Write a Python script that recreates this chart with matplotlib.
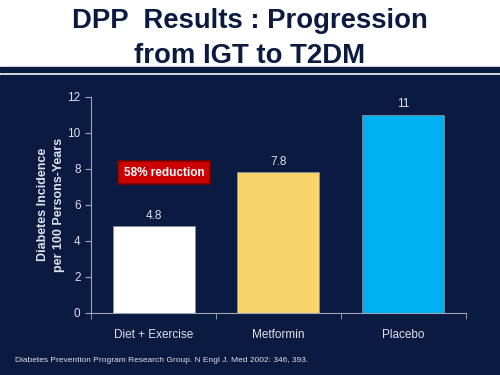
import matplotlib.pyplot as plt

# data
groups = ["Diet + Exercise", "Metformin", "Placebo"]
incidence = [4.8, 7.8, 11]
bar_colors = ["#ffffff", "#f8d46a", "#00b0f0"]
y_ticks = [0, 2, 4, 6, 8, 10, 12]

navy = "#0b1a40"
light = "#e0e0e8"

plt.rcParams["font.family"] = ["Liberation Sans", "DejaVu Sans"]

fig = plt.figure(figsize=(5, 3.75), dpi=100)
fig.patch.set_facecolor("white")

# navy slide body and header rules
fig.patches.append(plt.Rectangle((0, 0), 1, 1 - 75 / 375, transform=fig.transFigure,
                                 color=navy, zorder=-5))
fig.patches.append(plt.Rectangle((0, 1 - 72 / 375), 1, 5 / 375, transform=fig.transFigure,
                                 color=navy, zorder=-5))

fig.text(0.5, 0.925, "DPP  Results : Progression", ha="center", va="baseline",
         fontsize=19.8, fontweight="bold", color=navy)
fig.text(0.5, 0.833, "from IGT to T2DM", ha="center", va="baseline",
         fontsize=19.8, fontweight="bold", color=navy)

ax = fig.add_axes([0.182, 0.166, 0.75, 0.576])
ax.set_zorder(2)
ax.set_facecolor(navy)

x = range(len(groups))
bars = ax.bar(x, incidence, width=0.656, color=bar_colors, edgecolor="#8090a0",
              linewidth=0.6, zorder=2)
for xi, v in zip(x, incidence):
    ax.text(xi, v + 0.25, f"{v:g}", ha="center", va="bottom", fontsize=8.5, color=light)

ax.text(0.084, 7.79, "58% reduction", ha="center", va="center", fontsize=8.5,
        fontweight="bold", color="white",
        bbox=dict(boxstyle="square,pad=0.45", facecolor="#cc0000", edgecolor="#7a0000",
                  linewidth=1.2))

ax.set_xlim(-0.5, 2.5)
ax.set_ylim(0, 12)
ax.set_yticks(y_ticks)
ax.set_xticks(list(x))
ax.set_xticklabels(groups)
ax.set_xticks([-0.5, 0.5, 1.5, 2.5], minor=True)
ax.tick_params(axis="x", which="major", length=0, pad=12, labelsize=8.5, colors=light)
ax.tick_params(axis="x", which="minor", length=4, color="#a0a8b8", direction="out")
ax.tick_params(axis="y", length=4, color="#a0a8b8", labelsize=8.5, labelcolor=light)

for side in ["top", "right"]:
    ax.spines[side].set_visible(False)
for side in ["left", "bottom"]:
    ax.spines[side].set_color("#a0a8b8")
    ax.spines[side].set_linewidth(0.8)

ax.set_ylabel("Diabetes Incidence\nper 100 Persons-Years", fontsize=9,
              fontweight="bold", color=light, labelpad=2, linespacing=1.45)

fig.text(0.03, 0.038, "Diabetes Prevention Program Research Group. N Engl J. Med 2002: 346, 393.",
         fontsize=6.0, color=light, va="center")

fig.savefig("out.png", dpi=100, facecolor=fig.get_facecolor())
